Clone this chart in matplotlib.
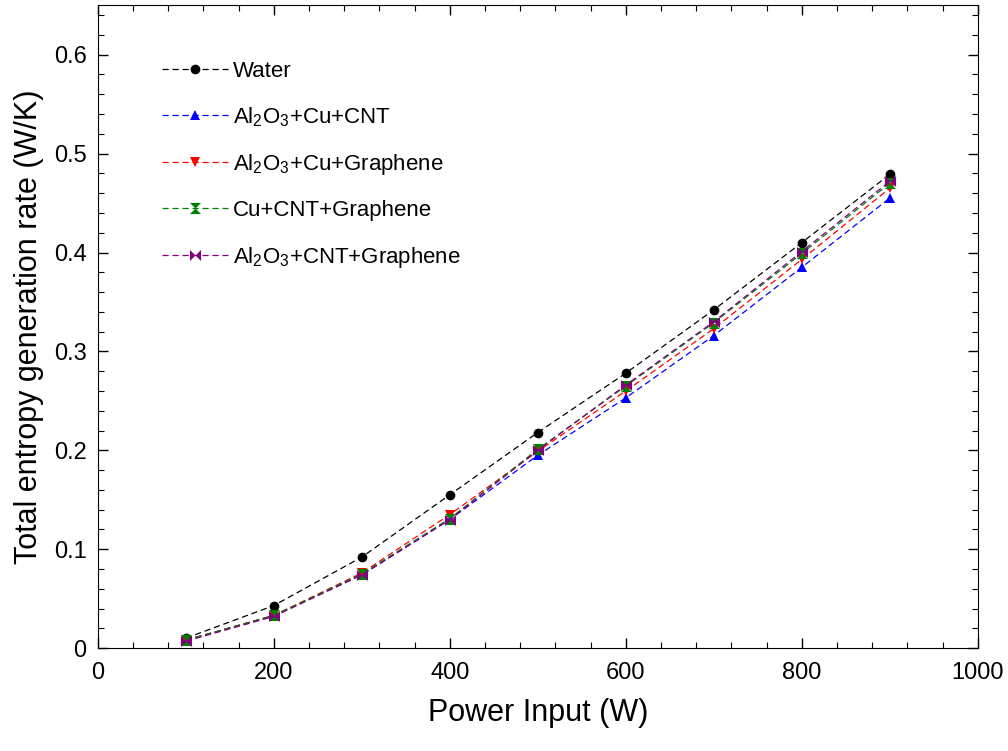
import matplotlib.pyplot as plt
import numpy as np

plt.rcParams['font.family'] = ['Liberation Sans', 'DejaVu Sans']
plt.rcParams['mathtext.fontset'] = 'custom'
plt.rcParams['mathtext.rm'] = 'Liberation Sans'

# Data
power = [100, 200, 300, 400, 500, 600, 700, 800, 900]
water = [0.010, 0.043, 0.092, 0.155, 0.218, 0.278, 0.342, 0.410, 0.479]
al_cu_cnt = [0.008, 0.033, 0.074, 0.130, 0.195, 0.253, 0.316, 0.385, 0.455]
al_cu_gr = [0.008, 0.033, 0.076, 0.135, 0.199, 0.260, 0.323, 0.393, 0.465]
cu_cnt_gr = [0.008, 0.033, 0.075, 0.131, 0.201, 0.265, 0.329, 0.399, 0.470]
al_cnt_gr = [0.007, 0.032, 0.074, 0.130, 0.200, 0.266, 0.330, 0.401, 0.472]

hourglass = [(-1, 1), (1, 1), (-1, -1), (1, -1), (-1, 1)]
bowtie = [(-1, -1), (1, 1), (1, -1), (-1, 1), (-1, -1)]

series = [
    ('Water', water, 'black', 'o', 7),
    (r'Al$_2$O$_3$+Cu+CNT', al_cu_cnt, 'blue', '^', 7),
    (r'Al$_2$O$_3$+Cu+Graphene', al_cu_gr, 'red', 'v', 7),
    ('Cu+CNT+Graphene', cu_cnt_gr, 'green', hourglass, 8),
    (r'Al$_2$O$_3$+CNT+Graphene', al_cnt_gr, 'purple', bowtie, 8),
]

fig, ax = plt.subplots(figsize=(10.08, 7.51), dpi=100)
for name, vals, color, mk, ms in series:
    ax.plot(power, vals, linestyle=(0, (5, 3)), linewidth=0.9, color=color,
            marker=mk, markersize=ms, markeredgewidth=0, label=name)

ax.set_xlim(0, 1000)
ax.set_ylim(0, 0.65)
ax.set_xticks([0, 200, 400, 600, 800, 1000])
ax.set_xticks(np.arange(0, 1001, 40), minor=True)
ax.set_yticks([0, 0.1, 0.2, 0.3, 0.4, 0.5, 0.6])
ax.set_yticklabels(['0', '0.1', '0.2', '0.3', '0.4', '0.5', '0.6'])
ax.set_yticks(np.arange(0, 0.65, 0.02), minor=True)
ax.tick_params(which='both', direction='in', top=True, right=True, labelsize=17)
ax.tick_params(axis='x', which='major', pad=10)
ax.tick_params(axis='y', which='major', pad=8)
ax.tick_params(which='major', length=7, width=1)
ax.tick_params(which='minor', length=4, width=0.8)

ax.set_xlabel('Power Input (W)', fontsize=22, labelpad=10)
ax.set_ylabel('Total entropy generation rate (W/K)', fontsize=22, labelpad=7)

ax.legend(loc='upper left', bbox_to_anchor=(0.05, 0.945), frameon=False,
          fontsize=16, labelspacing=1.05, handlelength=3.0, handletextpad=0.2)

plt.subplots_adjust(left=0.097, right=0.97, top=0.993, bottom=0.137)
plt.savefig('out.png', dpi=100)
